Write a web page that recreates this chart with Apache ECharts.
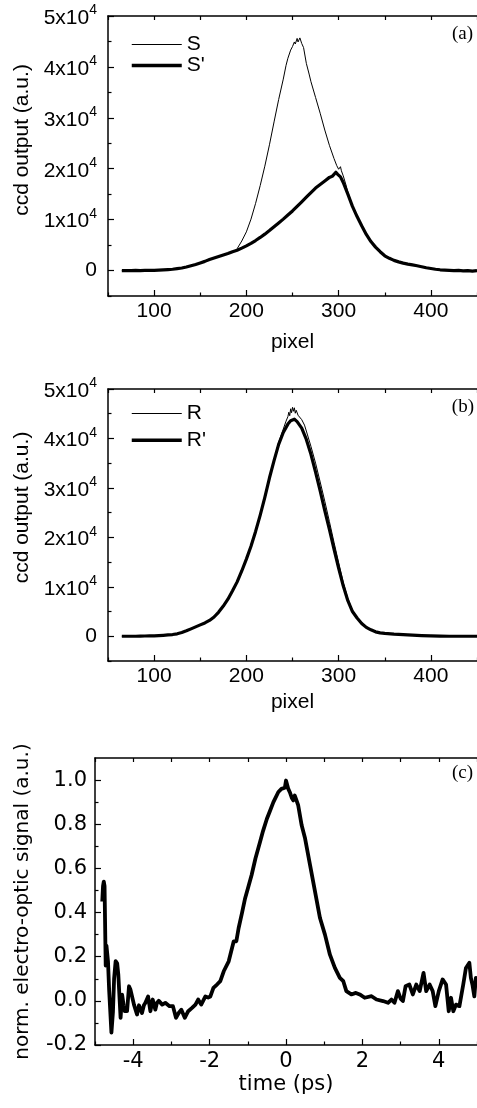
<!DOCTYPE html>
<html><head><meta charset="utf-8">
<script src="https://cdn.jsdelivr.net/npm/echarts@6/dist/echarts.min.js"></script>
<style>html,body{margin:0;padding:0;background:#fff}#c{width:477px;height:1108px}</style>
</head><body><div id="c"></div>
<script>
// ---------- Panel (a): S and S' ----------
const sPix = [65,70,75,80,85,90,95,100,105,110,
  115,120,125,130,135,140,145,150,155,160,
  165,170,175,180,185,
  188,190,195,200,205,210,215,220,225,230,235,240,243,245,248,250,252,253,255,256,258,260,262,265,268,270,275,280,285,290,295,298,300,302,303,305,308,310,315,320,325,330,335,340,345,350,355,
  360,365,370,375,380,385,390,395,400,405,410,415,420,425,430,435,440,445,450];
const sVal = [0,10,0,-20,0,20,30,50,90,130,
  190,260,370,500,700,950,1200,1500,1800,2150,
  2450,2750,3050,3350,3700,
  3850,4300,5800,7600,10100,13200,16700,20500,24700,29200,33600,37600,40300,41700,43300,44000,44900,44500,45600,44900,45700,44600,43800,40700,38600,37100,34000,30900,27600,24600,22000,20600,19900,20400,19600,18600,16800,15400,12700,10500,8900,7000,5800,4500,3800,2900,2500,
  1950,1750,1400,1300,1050,1000,700,600,380,280,120,150,30,0,-80,30,-150,-20,0];
const spPix = [65,70,75,80,85,90,95,100,105,110,
  115,120,125,130,135,140,145,150,155,160,
  165,170,175,180,185,190,195,200,205,210,
  215,220,225,230,235,240,245,250,255,260,
  265,270,275,280,285,290,
  293,295,297,299,300,302,305,
  310,315,320,325,330,335,340,345,350,355,
  360,365,370,375,380,385,390,395,400,405,
  410,415,420,425,430,435,440,445,450];
const spVal = [0,-30,0,20,0,20,30,50,90,130,
  190,260,370,500,700,950,1200,1500,1800,2150,
  2450,2750,3050,3350,3700,4000,4400,4850,5350,5900,
  6500,7150,7850,8600,9350,10100,10900,11700,12600,13500,
  14400,15300,16200,16900,17600,18300,
  18500,18900,19300,18900,19000,18400,17300,
  15000,12600,10600,8800,7100,5700,4600,3700,2900,2400,
  2000,1700,1450,1250,1100,950,750,550,400,250,
  150,100,50,0,20,-50,0,-100,0];

// ---------- Panel (b): R and R' ----------
const rPix = [65,70,75,80,85,90,95,100,105,110,
  115,120,125,130,135,140,145,150,155,160,
  165,170,175,180,185,190,195,200,205,210,
  215,220,225,230,
  235,240,243,245,246,247,248,249,250,251,252,253,254,256,258,260,263,265,270,275,280,285,290,295,300,305,310,315,320,
  325,330,335,340,345,350,
  360,370,380,390,400,410,420,430,440,450];
const rVal = [0,0,0,0,20,50,70,100,150,200,
  270,350,500,750,1100,1500,1900,2300,2700,3200,
  3900,4900,6100,7500,9200,11000,13200,15600,18200,21200,
  24500,28200,32200,35700,
  39200,41900,43500,44400,45300,44600,46000,45200,46300,45500,46200,45100,45700,44700,45000,43800,42700,41500,38400,35000,31200,27300,23200,19000,14900,10900,7600,5200,3800,
  2600,1800,1300,900,700,600,
  450,350,250,150,80,50,0,0,0,0];
const rpPix = [65,70,75,80,85,90,95,100,105,110,
  115,120,125,130,135,140,145,150,155,160,
  165,170,175,180,185,190,195,200,205,210,
  215,220,225,230,235,240,245,
  248,250,252,
  255,260,265,270,275,280,285,290,295,300,305,310,315,320,325,330,335,340,345,350,
  360,370,380,390,400,410,420,430,440,450];
const rpVal = [0,0,0,0,20,50,70,100,150,200,
  270,350,500,750,1100,1500,1900,2300,2700,3200,
  3900,4900,6100,7500,9200,11000,13200,15600,18200,21200,
  24500,28100,32000,35500,38800,41200,42900,
  43600,43800,43900,
  43400,42100,39800,36800,33200,29400,25400,21600,17600,13800,10200,7200,5000,3700,2600,1800,1300,900,700,600,
  450,350,250,150,80,50,0,0,0,0];

// ---------- Panel (c): normalized electro-optic signal ----------
const tPs = [-4.81,-4.79,-4.77,-4.75,-4.72,-4.70,-4.68,-4.66,-4.63,-4.57,-4.53,-4.50,-4.46,-4.42,-4.39,-4.33,-4.29,-4.25,-4.22,-4.16,
  -4.11,-4.07,-4.04,-3.98,-3.90,-3.85,-3.81,-3.77,-3.72,-3.68,-3.61,-3.55,-3.49,-3.42,-3.38,-3.33,-3.24,-3.16,-3.05,-2.96,
  -2.88,-2.81,-2.74,-2.65,-2.56,-2.46,-2.37,-2.30,-2.22,-2.11,-2.04,-1.98,-1.90,-1.80,-1.72,-1.63,-1.50,-1.37,-1.30,-1.24,
  -1.15,-1.07,-0.98,-0.90,-0.80,-0.68,-0.60,-0.50,-0.42,-0.33,-0.20,-0.12,-0.07,-0.03,0.00,0.02,0.06,0.10,0.15,0.19,
  0.23,0.27,0.32,0.41,0.50,0.63,0.76,0.89,1.02,1.15,1.28,1.41,1.50,1.58,1.71,1.83,1.93,2.06,2.24,2.37,
  2.54,2.67,2.76,2.84,2.93,3.00,3.06,3.13,3.23,3.32,3.41,3.50,3.60,3.67,3.76,3.84,3.91,4.00,4.10,4.19,
  4.26,4.32,4.38,4.45,4.54,4.64,4.71,4.80,4.84,4.88,4.93,4.97,5.00];
const eoSig = [0.45,0.52,0.54,0.52,0.16,0.25,0.25,0.18,0.05,-0.144,-0.05,0.10,0.18,0.17,0.12,-0.077,0.028,-0.02,-0.047,-0.047,
  0.066,0.05,0.059,-0.017,-0.062,-0.02,-0.017,-0.055,-0.02,-0.009,0.02,-0.047,0.006,-0.04,-0.01,0,-0.017,-0.009,-0.024,-0.024,
  -0.077,-0.055,-0.04,-0.077,-0.047,-0.032,-0.017,0.006,-0.017,0.02,0.015,0.02,0.059,0.075,0.089,0.134,0.179,0.269,0.27,0.33,
  0.40,0.465,0.52,0.57,0.645,0.72,0.77,0.825,0.86,0.90,0.946,0.96,0.968,0.965,0.998,0.99,0.96,0.945,0.92,0.908,
  0.93,0.91,0.885,0.795,0.735,0.615,0.495,0.375,0.30,0.209,0.149,0.104,0.089,0.044,0.029,0.036,0.029,0.014,0.021,0.006,
  -0.001,-0.009,0.006,-0.009,0.044,0.01,-0.001,0.066,0.074,0.029,0.074,0.044,0.127,0.044,0.074,0.044,-0.024,0.044,0.097,0.074,
  -0.047,0.014,-0.047,-0.017,-0.024,0.074,0.149,0.172,0.104,0.074,0.02,0.104,0.10];

// ---------- Tick values ----------
const pixelMajor = [100,200,300,400];
const pixelMinor = [50,150,250,350,450];
const ccdMajor = [0,10000,20000,30000,40000,50000];
const ccdMinor = [-5000,5000,15000,25000,35000,45000];
const timeMajor = [-4,-2,0,2,4];
const timeMinor = [-5,-3,-1,1,3,5];
const sigMajor = [-0.2,0,0.2,0.4,0.6,0.8,1.0];
const sigMinor = [-0.1,0.1,0.3,0.5,0.7,0.9];

const pairs = (xs, ys) => xs.map((x, i) => [x, ys[i]]);
const ARIAL = '"Liberation Sans", Arial, sans-serif';
const DEJAVU = '"DejaVu Sans", Verdana, sans-serif';
const BLK = '#000';

function xSet(grid, min, max, major, minor, font, name, nameGap, labelMargin) {
  const common = { type: 'value', gridIndex: grid, min: min, max: max, splitLine: { show: false } };
  return [
    Object.assign({}, common, {
      position: 'bottom',
      axisLine: { show: true, onZero: false, lineStyle: { color: BLK, width: 1.5 } },
      axisTick: { show: true, inside: true, length: 6, customValues: major, lineStyle: { color: BLK, width: 1.2 } },
      axisLabel: { show: true, customValues: major, margin: labelMargin, color: BLK, fontSize: 21, lineHeight: 21, fontFamily: font },
      name: name, nameLocation: 'middle', nameGap: nameGap,
      nameTextStyle: { color: BLK, fontSize: 21, lineHeight: 21, fontFamily: font }
    }),
    Object.assign({}, common, {
      position: 'bottom',
      axisLine: { show: false, onZero: false },
      axisTick: { show: true, inside: true, length: 3.5, customValues: minor, lineStyle: { color: BLK, width: 1.2 } },
      axisLabel: { show: false }
    }),
    Object.assign({}, common, {
      position: 'top',
      axisLine: { show: true, onZero: false, lineStyle: { color: BLK, width: 1.5 } },
      axisTick: { show: true, inside: true, length: 4, customValues: major.concat(minor), lineStyle: { color: BLK, width: 1.2 } },
      axisLabel: { show: false }
    })
  ];
}

function ySet(grid, min, max, major, minor, labelOpt, name, nameGap, nameFont, nameSize, namePad) {
  const common = { type: 'value', gridIndex: grid, min: min, max: max, splitLine: { show: false } };
  return [
    Object.assign({}, common, {
      position: 'left',
      axisLine: { show: true, onZero: false, lineStyle: { color: BLK, width: 1.5 } },
      axisTick: { show: true, inside: true, length: 6, customValues: major, lineStyle: { color: BLK, width: 1.2 } },
      axisLabel: Object.assign({ show: true, customValues: major, color: BLK }, labelOpt),
      name: name, nameLocation: 'middle', nameGap: nameGap,
      nameTextStyle: { color: BLK, fontSize: nameSize, lineHeight: nameSize, fontFamily: nameFont, padding: namePad }
    }),
    Object.assign({}, common, {
      position: 'left',
      axisLine: { show: false, onZero: false },
      axisTick: { show: true, inside: true, length: 3.5, customValues: minor, lineStyle: { color: BLK, width: 1.2 } },
      axisLabel: { show: false }
    })
  ];
}

const ccdLabel = {
  margin: 11,
  fontFamily: ARIAL,
  formatter: function (v) {
    if (v === 0) return '{z|0}';
    return '{b|' + Math.round(v / 10000) + 'x10}{s|4}';
  },
  rich: {
    z: { fontSize: 21, lineHeight: 21, fontFamily: ARIAL, color: BLK },
    b: { fontSize: 21, lineHeight: 25, fontFamily: ARIAL, color: BLK, verticalAlign: 'bottom' },
    s: { fontSize: 14, lineHeight: 14, fontFamily: ARIAL, color: BLK, verticalAlign: 'top' }
  }
};
const sigLabel = {
  margin: 8, fontSize: 21, lineHeight: 21, fontFamily: DEJAVU,
  formatter: function (v) { return v.toFixed(1); }
};

const xAxes = [].concat(
  xSet(0, 50, 450, pixelMajor, pixelMinor, ARIAL, 'pixel', 36, 5),
  xSet(1, 50, 450, pixelMajor, pixelMinor, ARIAL, 'pixel', 31, 5),
  xSet(2, -5, 5, timeMajor, timeMinor, DEJAVU, 'time (ps)', 29, 6)
);
const yAxes = [].concat(
  ySet(0, -5000, 50000, ccdMajor, ccdMinor, ccdLabel, 'ccd output (a.u.)', 73, ARIAL, 21, [0, 0, 0, 32]),
  ySet(1, -5000, 50000, ccdMajor, ccdMinor, ccdLabel, 'ccd output (a.u.)', 73, ARIAL, 21, [0, 0, 0, 35]),
  ySet(2, -0.2, 1.1, sigMajor, sigMinor, sigLabel, 'norm. electro-optic signal (a.u.)', 62, DEJAVU, 20, 0)
);

function lineSeries(name, xi, yi, data, width) {
  return {
    name: name, type: 'line', xAxisIndex: xi, yAxisIndex: yi, data: data,
    symbol: 'none', showSymbol: false, smooth: false,
    lineStyle: { color: BLK, width: width, join: 'round' },
    itemStyle: { color: BLK },
    emphasis: { disabled: true }, silent: true, animation: false
  };
}

const legendBase = {
  orient: 'vertical', itemWidth: 50, itemHeight: 14, selectedMode: false,
  itemStyle: { opacity: 0 },
  textStyle: { color: BLK, fontSize: 21, lineHeight: 21, fontFamily: ARIAL }
};

const option = {
  backgroundColor: '#fff',
  animation: false,
  grid: [
    { left: 108, top: 16, width: 370, height: 280 },
    { left: 108, top: 389, width: 370, height: 272 },
    { left: 95, top: 758, width: 383, height: 287 }
  ],
  xAxis: xAxes,
  yAxis: yAxes,
  legend: [
    Object.assign({}, legendBase, {
      data: [{ name: 'S', lineStyle: { width: 1, color: BLK } }, { name: "S'", lineStyle: { width: 3.5, color: BLK } }],
      left: 125, top: 29, itemGap: 0
    }),
    Object.assign({}, legendBase, {
      data: [{ name: 'R', lineStyle: { width: 1, color: BLK } }, { name: "R'", lineStyle: { width: 3.5, color: BLK } }],
      left: 125, top: 398, itemGap: 5.7
    })
  ],
  graphic: [
    { type: 'text', right: 4, top: 25, style: { text: '(a)', font: '19px "Liberation Serif", "Times New Roman", serif', fill: BLK } },
    { type: 'text', right: 3, top: 398, style: { text: '(b)', font: '19px "Liberation Serif", "Times New Roman", serif', fill: BLK } },
    { type: 'text', right: 4, top: 764, style: { text: '(c)', font: '19px "Liberation Serif", "Times New Roman", serif', fill: BLK } }
  ],
  series: [
    lineSeries('S', 0, 0, pairs(sPix, sVal), 1),
    lineSeries("S'", 0, 0, pairs(spPix, spVal), 3.2),
    lineSeries('R', 3, 2, pairs(rPix, rVal), 1),
    lineSeries("R'", 3, 2, pairs(rpPix, rpVal), 3.2),
    lineSeries('signal', 6, 4, pairs(tPs, eoSig), 3.8)
  ]
};

const chart = echarts.init(document.getElementById('c'), null, { renderer: 'canvas' });
chart.setOption(option);
</script>
</body></html>
